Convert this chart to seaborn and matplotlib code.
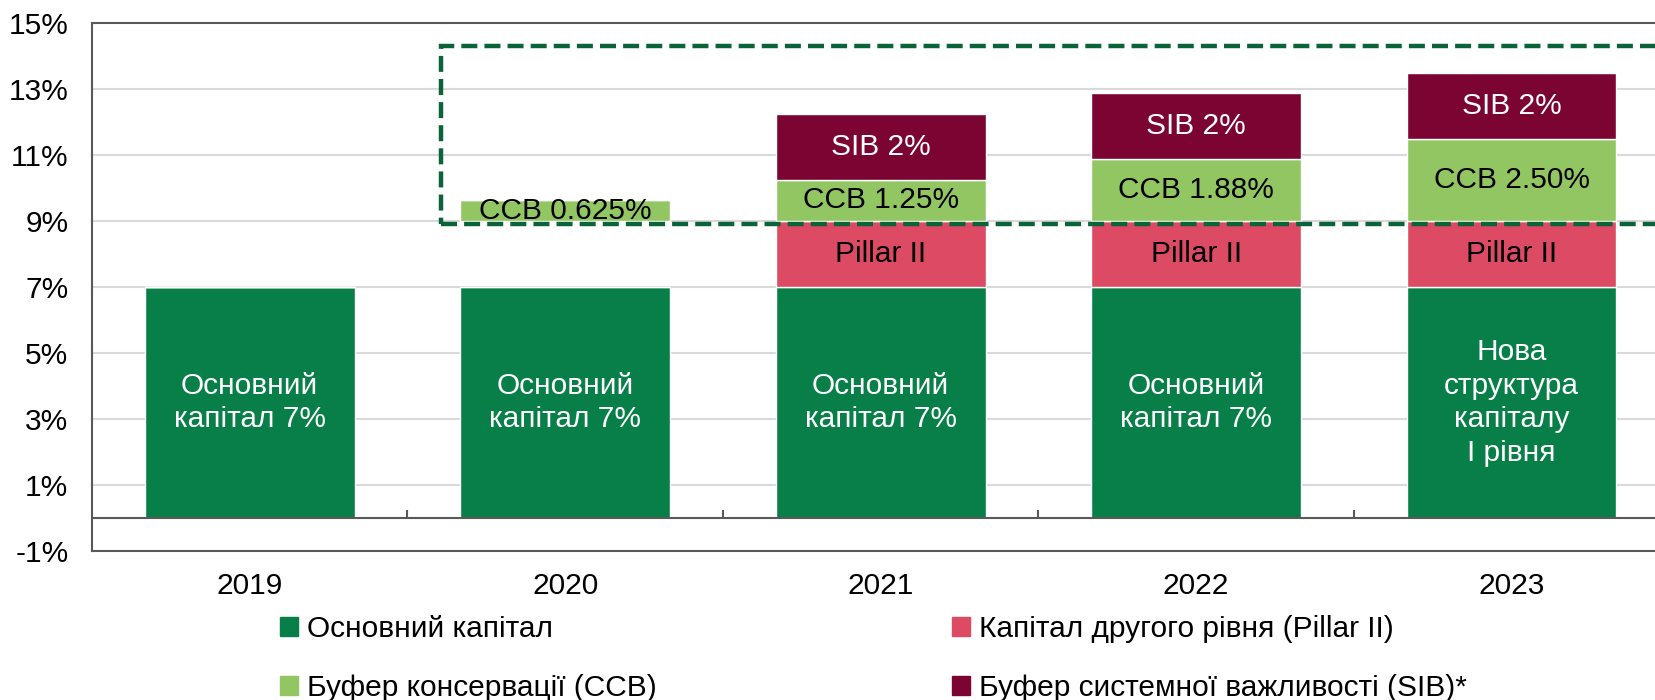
import matplotlib
matplotlib.use("Agg")
import matplotlib.pyplot as plt
from matplotlib.patches import Patch, Rectangle
import seaborn as sns
import numpy as np

# data
years = ["2019", "2020", "2021", "2022", "2023"]
core_capital = [7, 7, 7, 7, 7]
pillar_ii = [0, 0, 2, 2, 2]
gap_2020 = [0, 2, 0, 0, 0]          # empty space under CCB in 2020
ccb = [0, 0.625, 1.25, 1.88, 2.5]
sib = [0, 0, 2, 2, 2]

core_labels = ["Основний\nкапітал 7%", "Основний\nкапітал 7%", "Основний\nкапітал 7%",
               "Основний\nкапітал 7%", "Нова\nструктура\nкапіталу\nI рівня"]
pillar_labels = ["", "", "Pillar II", "Pillar II", "Pillar II"]
ccb_labels = ["", "CCB 0.625%", "CCB 1.25%", "CCB 1.88%", "CCB 2.50%"]
sib_labels = ["", "", "SIB 2%", "SIB 2%", "SIB 2%"]

legend_names = ["Основний капітал", "Буфер консервації (CCB)",
                "Капітал другого рівня (Pillar II)", "Буфер системної важливості (SIB)*"]

# dashed box around the buffers (data units)
box_left, box_bottom, box_top = 0.607, 8.92, 14.3

C_CORE = "#087f48"
C_PILLAR = "#dc4a63"
C_CCB = "#92c663"
C_SIB = "#7b0432"
C_BOX = "#0b6339"

FS = 21.5

sns.set_theme(style="white")
plt.rcParams["font.family"] = ["Liberation Sans", "DejaVu Sans"]
plt.rcParams["text.color"] = "black"
plt.rcParams["xtick.color"] = "black"
plt.rcParams["ytick.color"] = "black"

fig = plt.figure(figsize=(16.55, 7), dpi=100)
ax = fig.add_axes([0.0556, 0.213, 0.953, 0.754])

layers = [
    (core_capital, C_CORE, core_labels, "white"),
    (pillar_ii, C_PILLAR, pillar_labels, "black"),
    (gap_2020, "none", None, None),
    (ccb, C_CCB, ccb_labels, "black"),
    (sib, C_SIB, sib_labels, "white"),
]

bottom = np.zeros(len(years))
for values, color, labels, txt_color in layers:
    n_before = len(ax.containers)
    sns.barplot(x=years, y=values, bottom=bottom, color=color, saturation=1,
                width=0.665, ax=ax, zorder=3)
    cont = ax.containers[n_before]
    if color == "none":
        for p in cont:
            p.set_facecolor("none")
            p.set_edgecolor("none")
    if labels is not None:
        ax.bar_label(cont, labels=labels, label_type="center", color=txt_color,
                     fontsize=FS, linespacing=1.25, zorder=5)
    bottom = bottom + np.array(values)

# axes styling
ax.set_xlim(-0.5, len(years) - 0.5)
ax.set_ylim(-1, 15)
ax.set_yticks(np.arange(-1, 16, 2))
ax.set_yticklabels([f"{v}%" for v in np.arange(-1, 16, 2)])
ax.set_xlabel("")
ax.set_ylabel("")
ax.tick_params(axis="y", length=0, pad=17, labelsize=FS, labelcolor="black")
ax.tick_params(axis="x", length=0, pad=15, labelsize=FS, labelcolor="black")
for v in np.arange(1, 15, 2):
    ax.axhline(v, color="#d9d9d9", lw=1.5, zorder=1)
ax.axhline(0, color="#595959", lw=1.5, zorder=4)
ax.vlines(np.arange(0.5, len(years) - 0.5), 0, 0.25, color="#595959", lw=1.5, zorder=4)
for side in ["left", "top", "bottom"]:
    ax.spines[side].set_color("#595959")
    ax.spines[side].set_linewidth(1.5)
ax.spines["right"].set_visible(False)

ax.add_patch(Rectangle((box_left, box_bottom), len(years) + 1 - box_left, box_top - box_bottom,
                       fill=False, edgecolor=C_BOX, lw=3.2, linestyle=(0, (3.6, 1.6)),
                       zorder=6, clip_on=True))

handles = [Patch(color=c) for c in [C_CORE, C_CCB, C_PILLAR, C_SIB]]
leg = fig.legend(handles, legend_names, ncol=2, loc="upper left",
                 bbox_to_anchor=(0.169, 0.122), frameon=False, fontsize=FS,
                 handlelength=0.6, handleheight=0.6, handletextpad=0.3,
                 columnspacing=9.9, labelspacing=1.05, borderaxespad=0, borderpad=0)
for t in leg.get_texts():
    t.set_color("black")

fig.savefig("out.png", dpi=100)
